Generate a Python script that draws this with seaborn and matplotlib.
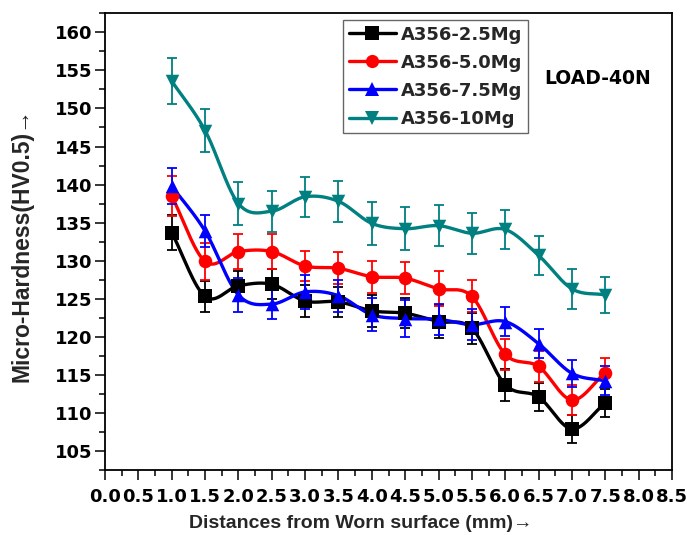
import numpy as np
import pandas as pd
import matplotlib
matplotlib.use("Agg")
import matplotlib.pyplot as plt
from matplotlib.ticker import MultipleLocator, FormatStrFormatter
import seaborn as sns

# ---------------- data ----------------
distance = [1.0, 1.5, 2.0, 2.5, 3.0, 3.5, 4.0, 4.5, 5.0, 5.5, 6.0, 6.5, 7.0, 7.5]
series_names = ["A356-2.5Mg", "A356-5.0Mg", "A356-7.5Mg", "A356-10Mg"]
mg25 = [133.7, 125.3, 126.7, 126.9, 124.7, 124.6, 123.4, 123.1, 122.0, 121.1, 113.7, 112.1, 107.9, 111.3]
mg25_err = [2.3, 2.0, 2.0, 2.0, 2.1, 2.0, 2.1, 2.0, 2.2, 2.0, 2.1, 1.8, 1.8, 1.8]
mg50 = [138.5, 129.9, 131.2, 131.2, 129.3, 129.0, 127.9, 127.7, 126.3, 125.3, 117.7, 116.1, 111.7, 115.3]
mg50_err = [2.6, 2.4, 2.3, 2.3, 2.0, 2.1, 2.1, 2.1, 2.3, 2.1, 2.0, 2.0, 2.0, 1.9]
mg75 = [139.8, 133.9, 125.5, 124.3, 125.9, 125.4, 122.9, 122.4, 122.3, 121.6, 122.0, 119.1, 115.2, 114.2]
mg75_err = [2.4, 2.1, 2.2, 2.0, 2.2, 2.1, 2.2, 2.4, 2.0, 2.0, 1.9, 1.9, 1.8, 1.9]
mg10 = [153.6, 147.1, 137.5, 136.5, 138.4, 137.8, 134.9, 134.2, 134.6, 133.6, 134.1, 130.7, 126.3, 125.5]
mg10_err = [3.0, 2.8, 2.8, 2.7, 2.6, 2.7, 2.8, 2.8, 2.7, 2.7, 2.6, 2.6, 2.6, 2.4]

colors = ["#000000", "#FF0000", "#0000FF", "#008080"]
markers = ["s", "o", "^", "v"]


def smooth_curve(x, y, n=40):
    """Catmull-Rom connecting curve through the data points."""
    x = np.asarray(x, float)
    y = np.asarray(y, float)
    px = np.concatenate([[2 * x[0] - x[1]], x, [2 * x[-1] - x[-2]]])
    py = np.concatenate([[2 * y[0] - y[1]], y, [2 * y[-1] - y[-2]]])
    t = np.linspace(0, 1, n, endpoint=False)
    xs, ys = [], []
    for i in range(1, len(px) - 2):
        for p, out in ((px, xs), (py, ys)):
            p0, p1, p2, p3 = p[i - 1], p[i], p[i + 1], p[i + 2]
            out.append(0.5 * (2 * p1 + (-p0 + p2) * t
                              + (2 * p0 - 5 * p1 + 4 * p2 - p3) * t ** 2
                              + (-p0 + 3 * p1 - 3 * p2 + p3) * t ** 3))
    xs.append([x[-1]])
    ys.append([y[-1]])
    return np.concatenate(xs), np.concatenate(ys)


sns.set_theme(style="ticks")
plt.rcParams["font.family"] = ["DejaVu Sans"]
plt.rcParams["font.weight"] = "bold"
plt.rcParams["axes.labelweight"] = "bold"

fig = plt.figure(figsize=(6.87, 5.35), dpi=100)
ax = fig.add_axes([105 / 687, 1 - 470 / 535, 567 / 687, (470 - 13.3) / 535])

values = [mg25, mg50, mg75, mg10]
errors = [mg25_err, mg50_err, mg75_err, mg10_err]
handles = []
for name, vals, errs, col, mk in zip(series_names, values, errors, colors, markers):
    xs, ys = smooth_curve(distance, vals)
    curve = pd.DataFrame({"x": xs, "y": ys})
    sns.lineplot(data=curve, x="x", y="y", ax=ax, color=col, lw=2.4,
                 estimator=None, sort=False, legend=False, zorder=2)
    ax.errorbar(distance, vals, yerr=errs, fmt="none", ecolor=col,
                elinewidth=1.3, capsize=3.8, capthick=1.3, zorder=3)
    pts = pd.DataFrame({"x": distance, "y": vals})
    sns.scatterplot(data=pts, x="x", y="y", ax=ax, color=col, marker=mk,
                    s=95, edgecolor=col, linewidth=0, legend=False, zorder=4)
    h, = ax.plot([], [], color=col, lw=2.4, marker=mk, markersize=9.5,
                 markeredgewidth=0, label=name)
    handles.append(h)

ax.set_xlim(0, 8.5)
ax.set_ylim(102.5, 162.5)
ax.xaxis.set_major_locator(MultipleLocator(0.5))
ax.xaxis.set_minor_locator(MultipleLocator(0.25))
ax.xaxis.set_major_formatter(FormatStrFormatter("%.1f"))
ax.yaxis.set_major_locator(MultipleLocator(5))
ax.yaxis.set_minor_locator(MultipleLocator(2.5))

for s in ax.spines.values():
    s.set_visible(True)
    s.set_linewidth(1.3)
    s.set_color("black")

ax.tick_params(axis="both", which="major", direction="out", length=7, width=1.1,
               labelsize=13, colors="black")
ax.tick_params(axis="both", which="minor", direction="out", length=4, width=1.1,
               colors="black")
ax.tick_params(axis="x", which="major", pad=6)
ax.tick_params(axis="y", which="major", pad=2)
ax.tick_params(top=False, right=False, which="both")
for lab in ax.get_xticklabels() + ax.get_yticklabels():
    lab.set_fontweight("bold")

ax.set_xlabel("Distances from Worn surface (mm)\u2192", fontsize=14, fontweight="bold",
              family=["Liberation Sans", "DejaVu Sans"])
ax.set_ylabel("Micro-Hardness(HV0.5)\u2192", fontsize=16.5, fontweight="bold",
              family=["Liberation Sans", "DejaVu Sans"])
ax.xaxis.set_label_coords((361 - 105) / 567, (470 - 523) / 456.7)
ax.xaxis.label.set_va("center")
ax.yaxis.set_label_coords((22 - 105) / 567, (470 - 245) / 456.7)
ax.yaxis.label.set_va("center")

leg = ax.legend(handles=handles, loc="upper left", bbox_to_anchor=(0.42, 0.985),
                frameon=True, fancybox=False, edgecolor="#666666", framealpha=1,
                prop={"size": 13, "weight": "bold"}, handlelength=2.6,
                handletextpad=0.3, borderpad=0.3, labelspacing=0.56,
                borderaxespad=0)
leg.get_frame().set_linewidth(1.0)

ax.text(0.868, 0.858, "LOAD-40N", transform=ax.transAxes, ha="center", va="center",
        fontsize=13.5, fontweight="bold", color="black")

fig.savefig("out.png", dpi=100)
